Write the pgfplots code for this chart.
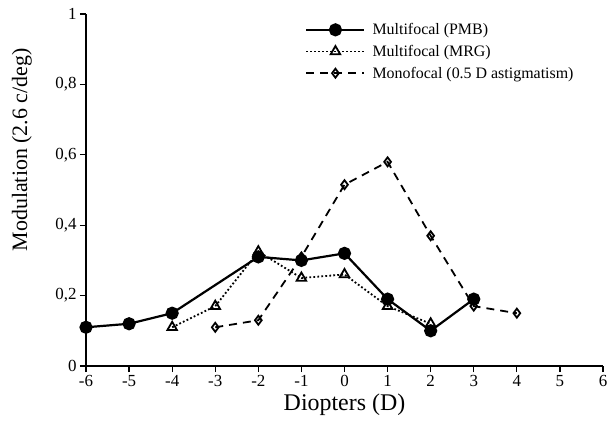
\documentclass[border=0pt]{standalone}
\usepackage{pgfplots}
\pgfplotsset{compat=1.18}
\usepackage{fontspec}
\setmainfont{Liberation Serif}

\newcommand\tickfont{\fontsize{17}{20}\selectfont}
\newcommand\legfont{\fontsize{16}{19}\selectfont}

% long legend samples with the mark in the middle
\pgfplotsset{
  longlegend/.style={
    legend image code/.code={%
      \draw[mark repeat=2, mark phase=2, ##1] plot coordinates {(0bp,0bp) (29bp,0bp) (58bp,0bp)};%
    }},
}

\begin{document}
\begin{tikzpicture}
% fixed canvas around the plot area
\path[use as bounding box] (-86bp,-71bp) rectangle (522bp,366bp);
\begin{axis}[
  at={(0,0)}, anchor=south west,
  scale only axis,
  width=517bp, height=352bp,
  xmin=-6, xmax=6, ymin=0, ymax=1,
  axis x line=bottom, axis y line=left,
  axis line style={-, line width=1.4bp},
  clip=false,
  xtick={-6,-5,...,6},
  xticklabels={\tickfont -6,\tickfont -5,\tickfont -4,\tickfont -3,\tickfont -2,\tickfont -1,\tickfont 0,\tickfont 1,\tickfont 2,\tickfont 3,\tickfont 4,\tickfont 5,\tickfont 6},
  ytick={0,0.2,0.4,0.6,0.8,1},
  yticklabels={\tickfont 0,{\tickfont 0,2},{\tickfont 0,4},{\tickfont 0,6},{\tickfont 0,8},\tickfont 1},
  tick align=outside,
  major tick length=6bp,
  tick style={line width=1.2bp, black},
  /pgf/number format/assume math mode=true,
  xlabel={Diopters (D)},
  ylabel={Modulation (2.6 c/deg)},
  xlabel style={at={(axis description cs:0.5,-0.111)}, anchor=center, font=\fontsize{24}{28}\selectfont},
  ylabel style={at={(axis description cs:-0.124,0.614)}, anchor=center, rotate=0, font=\fontsize{22}{26}\selectfont},
  legend style={at={(rel axis cs:0.42,0.985)}, anchor=north west, draw=none, fill=none,
    row sep=5bp, inner sep=2bp, nodes={inner xsep=7bp}},
  legend cell align=left,
]
% Multifocal (PMB)
\addplot[longlegend, black, solid, line width=2.2bp, mark=*, mark size=5.5bp, mark options={solid, fill=black}]
  coordinates {(-6,0.11) (-5,0.12) (-4,0.15) (-2,0.31) (-1,0.30) (0,0.32) (1,0.19) (2,0.10) (3,0.19)};
\addlegendentry{\legfont Multifocal (PMB)}
% Multifocal (MRG)
\addplot[longlegend, black, line width=1.8bp, dash pattern=on 1.8bp off 2.2bp, mark=triangle, mark size=5.5bp, mark options={solid, fill=white, line width=1.8bp}]
  coordinates {(-4,0.11) (-3,0.17) (-2,0.325) (-1,0.25) (0,0.26) (1,0.17) (2,0.12)};
\addlegendentry{\legfont Multifocal (MRG)}
% Monofocal (0.5 D astigmatism)
\addplot[longlegend, black, line width=1.8bp, dash pattern=on 8bp off 6bp, mark=diamond, mark size=4.5bp, mark options={solid, fill=white, line width=1.8bp}]
  coordinates {(-3,0.11) (-2,0.13) (-1,0.31) (0,0.515) (1,0.58) (2,0.37) (3,0.17) (4,0.15)};
\addlegendentry{\legfont Monofocal (0.5 D astigmatism)}
\end{axis}
\end{tikzpicture}
\end{document}
